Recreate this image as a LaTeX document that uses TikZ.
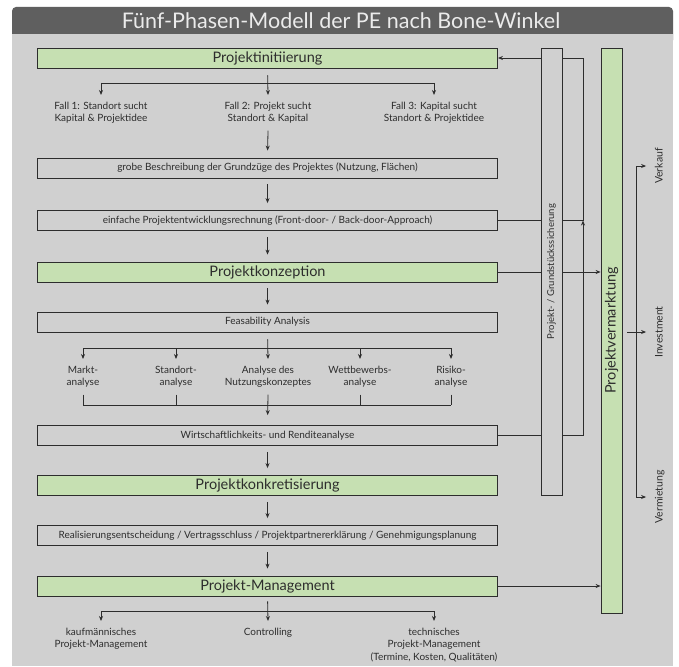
\documentclass[tikz,border=0pt]{standalone}
\usepackage{fontspec}
\setmainfont{Lato}
\usetikzlibrary{arrows.meta, positioning, calc}
\definecolor{phasegreen}{RGB}{198,224,178}
\definecolor{panelgray}{RGB}{208,208,208}
\definecolor{titlegray}{RGB}{95,95,95}
\definecolor{linegray}{RGB}{45,45,45}

\begin{document}
\begin{tikzpicture}[
    x=1pt, y=-1pt,
    color=linegray, line width=0.8pt,
    >={Stealth[length=5pt, width=4pt]},
    phasebox/.style={draw=linegray, fill=phasegreen, minimum width=460pt, minimum height=20pt, inner sep=0pt, font=\fontsize{14.5}{16}\selectfont},
    stepbox/.style={draw=linegray, minimum width=460pt, minimum height=20pt, inner sep=0pt, font=\fontsize{10}{12}\selectfont},
    casetext/.style={align=center, anchor=north, inner sep=0pt, outer sep=7pt, font=\fontsize{10}{12.5}\selectfont},
    sidelabel/.style={rotate=90, inner xsep=0pt, inner ysep=9pt, text height=7pt, text depth=2pt, font=\fontsize{10.5}{12}\selectfont},
    flow/.style={->, shorten <=6pt, shorten >=7pt},
]
    \useasboundingbox (0,0) rectangle (679,666);
    \fill[white] (0,0) rectangle (679,666);
    \fill[titlegray, rounded corners=4pt] (12,7) rectangle (673,44);
    \fill[panelgray] (12,34) rectangle (673,666);
    \node[text={rgb,255:red,235;green,235;blue,235}, font=\fontsize{21.5}{24}\selectfont] (title) at (341,21) {Fünf-Phasen-Modell der PE nach Bone-Winkel};

    % phases and steps
    \node[phasebox] (init) at (267.5,58) {Projektinitiierung};
    \node[casetext] (fall1) at (101,95) {Fall 1: Standort sucht\\Kapital \& Projektidee};
    \node[casetext] (fall2) at (268,95) {Fall 2: Projekt sucht\\Standort \& Kapital};
    \node[casetext] (fall3) at (434,95) {Fall 3: Kapital sucht\\Standort \& Projektidee};
    \node[stepbox] (grob) at (267.5,168) {grobe Beschreibung der Grundzüge des Projektes (Nutzung, Flächen)};
    \node[stepbox] (einfach) at (267.5,220.5) {einfache Projektentwicklungsrechnung (Front-door- / Back-door-Approach)};
    \node[phasebox] (konz) at (267.5,272) {Projektkonzeption};
    \node[stepbox] (feas) at (267.5,322) {Feasability Analysis};
    \node[casetext] (ana1) at (83,359) {Markt-\\analyse};
    \node[casetext] (ana2) at (176,359) {Standort-\\analyse};
    \node[casetext] (ana3) at (268,359) {Analyse des\\Nutzungskonzeptes};
    \node[casetext] (ana4) at (360,359) {Wettbewerbs-\\analyse};
    \node[casetext] (ana5) at (451,359) {Risiko-\\analyse};
    \node[stepbox] (wirt) at (267.5,435.5) {Wirtschaftlichkeits- und Renditeanalyse};
    \node[phasebox] (konk) at (267.5,485.5) {Projektkonkretisierung};
    \node[stepbox] (real) at (267.5,535.5) {Realisierungsentscheidung / Vertragsschluss / Projektpartnererklärung / Genehmigungsplanung};
    \node[phasebox] (pm) at (267.5,586) {Projekt-Management};
    \node[casetext] (pm1) at (101,621) {kaufmännisches\\Projekt-Management};
    \node[casetext] (pm2) at (268,621) {Controlling};
    \node[casetext] (pm3) at (434,621) {technisches\\Projekt-Management\\(Termine, Kosten, Qualitäten)};

    % right column
    \node[phasebox, rotate=90, minimum width=565pt, minimum height=21pt] (verm) at (611.5,330.5) {Projektvermarktung};
    \node[sidelabel] (verkauf) at (660,166) {Verkauf};
    \node[sidelabel] (invest) at (660,332) {Investment};
    \node[sidelabel] (vermiet) at (660,497) {Vermietung};

    % branches
    \coordinate (fbar) at (268,83);
    \draw (fall1.north |- fbar) -- (fall3.north |- fbar);
    \draw[->, shorten <=7pt] (init.south) -- (fall2.north);
    \draw[->] (fall1.north |- fbar) -- (fall1.north);
    \draw[->] (fall3.north |- fbar) -- (fall3.north);
    \draw[->, shorten >=7pt] (fall2.south) -- (grob.north);
    \draw[flow] (grob) -- (einfach);
    \draw[flow] (einfach) -- (konz);
    \draw[flow] (konz) -- (feas);

    \coordinate (abar) at (268,348);
    \draw (ana1.north |- abar) -- (ana5.north |- abar);
    \draw[->, shorten <=7pt] (feas.south) -- (ana3.north);
    \foreach \n in {1,2,4,5}
        \draw[->] (ana\n.north |- abar) -- (ana\n.north);
    \coordinate (mbar) at (268,405);
    \draw (ana1.south |- mbar) -- (ana5.south |- mbar);
    \foreach \n in {1,2,4,5}
        \draw (ana\n.south) -- (ana\n.south |- mbar);
    \draw[->, shorten >=10pt] (ana3.south) -- (wirt.north);

    \draw[flow] (wirt) -- (konk);
    \draw[flow] (konk) -- (real);
    \draw[flow] (real) -- (pm);

    \coordinate (pbar) at (268,611);
    \draw (pm1.north |- pbar) -- (pm3.north |- pbar);
    \draw[->, shorten <=5pt] (pm.south) -- (pm2.north);
    \draw[->] (pm1.north |- pbar) -- (pm1.north);
    \draw[->] (pm3.north |- pbar) -- (pm3.north);

    % feedback and marketing
    \coordinate (jtop) at (583,58);
    \coordinate (jmid) at (583,220.5);
    \coordinate (jbot) at (583,435.5);
    \draw[->] (wirt.east) -- (jbot) -- (jmid);
    \draw[->] (einfach.east) -- (jmid) -- (jtop) -- (init.east);
    \draw[->] (konz.east) -- (konz.east -| verm.north);
    \draw[->] (pm.east) -- (pm.east -| verm.north);
    \node[draw=linegray, fill=panelgray, rotate=90, minimum width=447pt, minimum height=21pt, inner sep=0pt, font=\fontsize{9.5}{10}\selectfont] (sicher) at (551.5,271.5) {Projekt- / Grundstückssicherung};

    \coordinate (vtop) at (636,166);
    \coordinate (vbot) at (636,497);
    \draw (vtop) -- (vbot);
    \draw[->] (vtop) -- (verkauf.north);
    \draw[->] (vbot) -- (vermiet.north);
    \draw[->, shorten <=5pt] (verm.south |- invest) -- (invest.north);
\end{tikzpicture}
\end{document}
